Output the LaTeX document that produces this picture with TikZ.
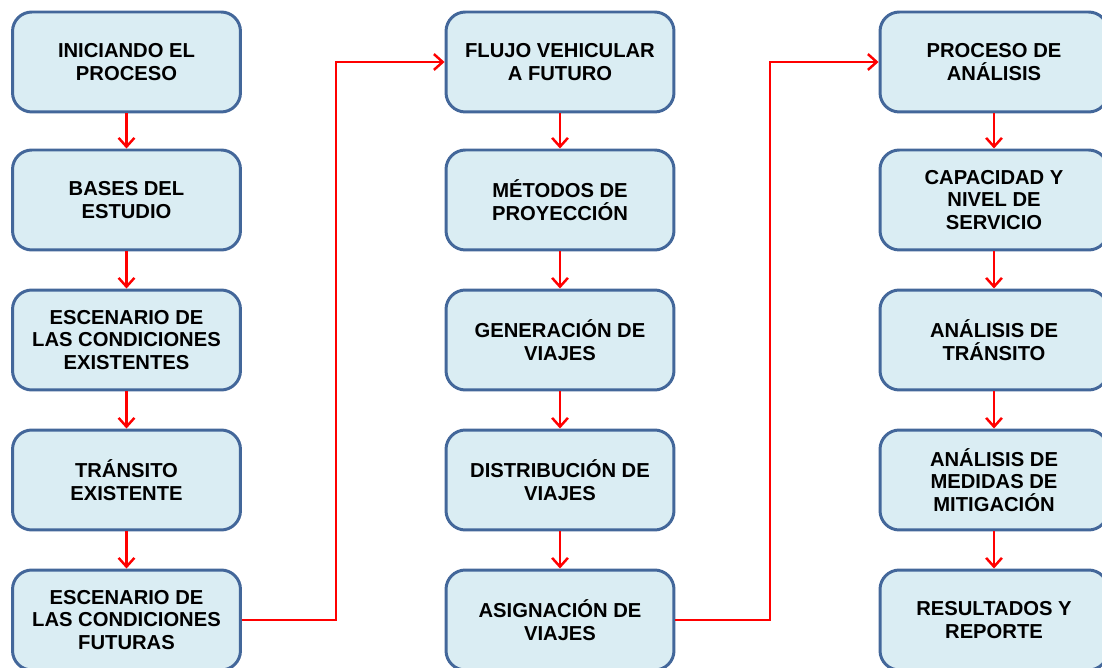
\documentclass[tikz,border=0pt]{standalone}
\usepackage{fontspec}
\setmainfont{Liberation Sans}
\usetikzlibrary{arrows.meta}
\definecolor{boxfill}{HTML}{DAEDF3}
\definecolor{boxline}{HTML}{43679A}
\tikzset{
  etapa/.style={draw=boxline, line width=1.7pt, fill=boxfill, rounded corners=11pt,
    minimum width=4.56cm, minimum height=2cm, align=center,
    font=\fontsize{11.5pt}{13pt}\selectfont\bfseries},
  flecha/.style={draw=red, line width=1.4pt, -{Straight Barb[length=5pt,width=9pt]}}
}
\begin{document}
\begin{tikzpicture}[x=0.02cm,y=-0.02cm]
  \useasboundingbox (0,0) rectangle (1102,668);
  \clip (0,0) rectangle (1102,668);
  % columna 1
  \node[etapa] (a1) at (126.5,62)  {INICIANDO EL\\PROCESO};
  \node[etapa] (a2) at (126.5,200) {BASES DEL\\ESTUDIO};
  \node[etapa] (a3) at (126.5,340) {ESCENARIO DE\\LAS CONDICIONES\\EXISTENTES};
  \node[etapa] (a4) at (126.5,480) {TRÁNSITO\\EXISTENTE};
  \node[etapa] (a5) at (126.5,620) {ESCENARIO DE\\LAS CONDICIONES\\FUTURAS};
  % columna 2
  \node[etapa] (b1) at (560,62)  {FLUJO VEHICULAR\\A FUTURO};
  \node[etapa] (b2) at (560,200) {MÉTODOS DE\\PROYECCIÓN};
  \node[etapa] (b3) at (560,340) {GENERACIÓN DE\\VIAJES};
  \node[etapa] (b4) at (560,480) {DISTRIBUCIÓN DE\\VIAJES};
  \node[etapa] (b5) at (560,620) {ASIGNACIÓN DE\\VIAJES};
  % columna 3
  \node[etapa] (c1) at (994,62)  {PROCESO DE\\ANÁLISIS};
  \node[etapa] (c2) at (994,200) {CAPACIDAD Y\\NIVEL DE\\SERVICIO};
  \node[etapa] (c3) at (994,340) {ANÁLISIS DE\\TRÁNSITO};
  \node[etapa] (c4) at (994,480) {ANÁLISIS DE\\MEDIDAS DE\\MITIGACIÓN};
  \node[etapa] (c5) at (994,620) {RESULTADOS Y\\REPORTE};
  \coordinate (q1) at (336,620);
  \coordinate (q2) at (770,620);
  \foreach \col in {a,b,c}{
    \draw[flecha] (\col1) -- (\col2);
    \draw[flecha] (\col2) -- (\col3);
    \draw[flecha] (\col3) -- (\col4);
    \draw[flecha] (\col4) -- (\col5);
  }
  \draw[flecha] (a5.east) -- (q1) |- (b1.west);
  \draw[flecha] (b5.east) -- (q2) |- (c1.west);
\end{tikzpicture}
\end{document}
